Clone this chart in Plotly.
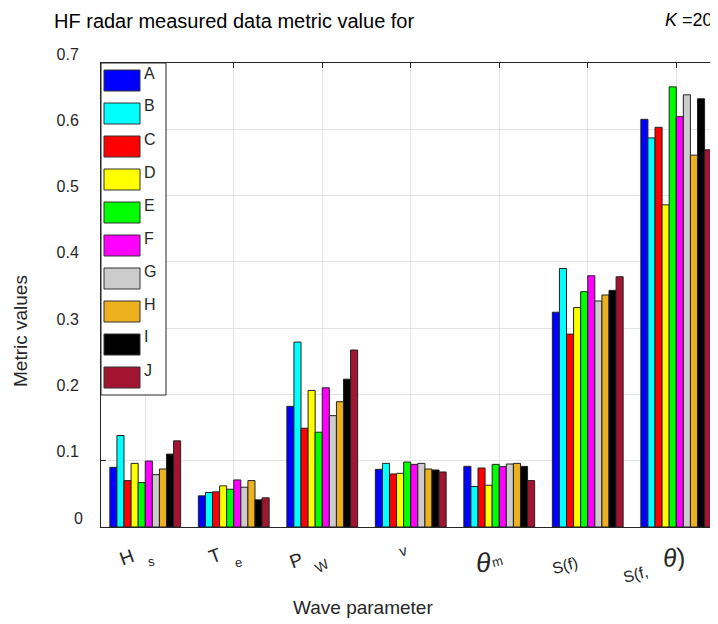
import plotly.graph_objects as go

# ---------------- data ----------------
CATEGORIES = ["Hs", "Te", "Pw", "v", "θm", "S(f)", "S(f,θ)"]
SERIES = ["A", "B", "C", "D", "E", "F", "G", "H", "I", "J"]
COLORS = ["#0000FF", "#00FFFF", "#FF0000", "#FFFF00", "#00FF00",
          "#FF00FF", "#CCCCCC", "#EDB120", "#000000", "#A2142F"]

A = [0.090, 0.047, 0.182, 0.087, 0.0915, 0.324, 0.615]
B = [0.138, 0.052, 0.279, 0.096, 0.061, 0.390, 0.587]
C = [0.070, 0.053, 0.149, 0.080, 0.089, 0.291, 0.603]
D = [0.096, 0.062, 0.206, 0.081, 0.063, 0.331, 0.486]
E = [0.067, 0.057, 0.143, 0.098, 0.0945, 0.355, 0.664]
F = [0.0995, 0.071, 0.210, 0.0945, 0.091, 0.379, 0.619]
G = [0.079, 0.060, 0.168, 0.096, 0.095, 0.341, 0.652]
H = [0.0875, 0.070, 0.189, 0.0875, 0.096, 0.350, 0.561]
I = [0.110, 0.041, 0.223, 0.086, 0.0915, 0.357, 0.646]
J = [0.130, 0.044, 0.267, 0.083, 0.070, 0.3775, 0.569]
VALUES = [A, B, C, D, E, F, G, H, I, J]

Y_TICKS = [0, 0.1, 0.2, 0.3, 0.4, 0.5, 0.6, 0.7]
Y_TICKTEXT = ["0", "0.1", "0.2", "0.3", "0.4", "0.5", "0.6", "0.7"]

# x tick label pieces (text, size, angle) per category, as drawn by the original
XLABEL_PIECES = [
    [("H", 19, -20), ("s", 13, -10)],
    [("T", 19, -20), ("e", 13, -10)],
    [("P", 19, -20), ("W", 14, -30)],
    [("v", 15, -15)],
    [("<i>θ</i>", 27, -5), ("m", 13, -15)],
    [("S(f)", 16, -15)],
    [("S(f,", 16, -15), ("<i>θ</i>)", 25, -5)],
]
# page-pixel centres of each piece
XLABEL_POS = [
    [(126.5, 557.5), (151.5, 561.5)],
    [(215, 555), (238.5, 562.5)],
    [(296, 560.5), (321.5, 565.5)],
    [(402.5, 550)],
    [(483, 563), (497.5, 561.5)],
    [(565, 565)],
    [(635, 574), (673.5, 556.5)],
]

# ---------------- layout geometry ----------------
PAGE_W, PAGE_H = 718, 624
OFF = 8  # default body margin of the html page
FW, FH = PAGE_W - OFF, PAGE_H - OFF
ML, MR, MT, MB = 101 - OFF, 0, 63 - OFF, PAGE_H - 527
PW = FW - ML - MR
PH = FH - MT - MB
AX = "#262626"
FONT = "Liberation Sans, Arial, sans-serif"


def px(x):
    return (x - OFF - ML) / PW


def py(y):
    return (FH - MB - (y - OFF)) / PH


fig = go.Figure()
xs = list(range(1, len(CATEGORIES) + 1))
for name, col, vals in zip(SERIES, COLORS, VALUES):
    fig.add_trace(go.Bar(
        x=xs, y=vals, name=name, showlegend=False,
        marker=dict(color=col, line=dict(color="#222222", width=1)),
    ))

annotations = []
shapes = []

# x tick labels
for pieces, poss in zip(XLABEL_PIECES, XLABEL_POS):
    for (t, s, a), (x, y) in zip(pieces, poss):
        annotations.append(dict(
            text=t, x=px(x), y=py(y), xref="paper", yref="paper",
            showarrow=False, textangle=a, xanchor="center", yanchor="middle",
            font=dict(family=FONT, size=s, color=AX)))

# the "0" label of the y axis sits further right in the original
annotations.append(dict(text=Y_TICKTEXT[0], x=px(85), y=Y_TICKS[0],
                        xref="paper", yref="y", yshift=9, showarrow=False,
                        xanchor="right", yanchor="middle",
                        font=dict(family=FONT, size=16, color=AX)))
ytext_axis = [""] + Y_TICKTEXT[1:]

# custom legend box
LEG_L, LEG_R, LEG_T, LEG_B = 101, 166, 63, 395
shapes.append(dict(type="rect", xref="paper", yref="paper",
                   x0=px(LEG_L), x1=px(LEG_R), y0=py(LEG_B), y1=py(LEG_T),
                   fillcolor="white", line=dict(color=AX, width=1), layer="above"))
for k, (name, col) in enumerate(zip(SERIES, COLORS)):
    top = 70 + 33 * k
    shapes.append(dict(type="rect", xref="paper", yref="paper",
                       x0=px(104), x1=px(140), y0=py(top + 21), y1=py(top),
                       fillcolor=col, line=dict(color="#333333", width=1),
                       layer="above"))
    annotations.append(dict(text=name, x=px(142), y=py(top + 3),
                            xref="paper", yref="paper", showarrow=False,
                            xanchor="left", yanchor="middle",
                            font=dict(family=FONT, size=16, color=AX)))

# title pieces (top-anchored at the top edge of the figure)
annotations.append(dict(text="HF radar measured data metric value for",
                        x=px(52), y=py(OFF), xref="paper", yref="paper",
                        showarrow=False, xanchor="left", yanchor="top",
                        font=dict(family=FONT, size=20, color="#000000")))
annotations.append(dict(text="<i>K</i> =20",
                        x=px(715), y=py(OFF), xref="paper", yref="paper",
                        showarrow=False, xanchor="right", yanchor="top",
                        font=dict(family=FONT, size=18, color="#000000")))
# axis titles
annotations.append(dict(text="Metric values", x=px(20), y=py(331),
                        xref="paper", yref="paper", showarrow=False,
                        textangle=-90, xanchor="center", yanchor="middle",
                        font=dict(family=FONT, size=19, color=AX)))
annotations.append(dict(text="Wave parameter", x=px(363), y=py(607),
                        xref="paper", yref="paper", showarrow=False,
                        xanchor="center", yanchor="middle",
                        font=dict(family=FONT, size=19, color=AX)))

fig.update_layout(
    width=FW, height=FH,
    margin=dict(l=ML, r=MR, t=MT, b=MB),
    paper_bgcolor="white", plot_bgcolor="white",
    barmode="group", bargap=0.2, bargroupgap=0,
    showlegend=False,
    annotations=annotations, shapes=shapes,
    font=dict(family=FONT, color=AX),
    xaxis=dict(range=[0.5, 0.5 + PW / 88.5], tickvals=xs,
               ticktext=[""] * len(xs), ticks="inside", ticklen=5,
               tickcolor=AX, showline=True, linecolor=AX, linewidth=1,
               mirror="ticks", showgrid=True, gridcolor="#e4e4e4",
               gridwidth=1, zeroline=False),
    yaxis=dict(range=[0, 0.7], tickvals=Y_TICKS, ticktext=ytext_axis,
               ticks="inside", ticklen=5, tickcolor=AX, showline=True,
               linecolor=AX, linewidth=1, mirror="ticks", showgrid=True,
               gridcolor="#e4e4e4", gridwidth=1, zeroline=False,
               tickfont=dict(family=FONT, size=16, color=AX),
               ticklabelshift=-9, ticklabelstandoff=18),
)

fig.write_html("out.html")
